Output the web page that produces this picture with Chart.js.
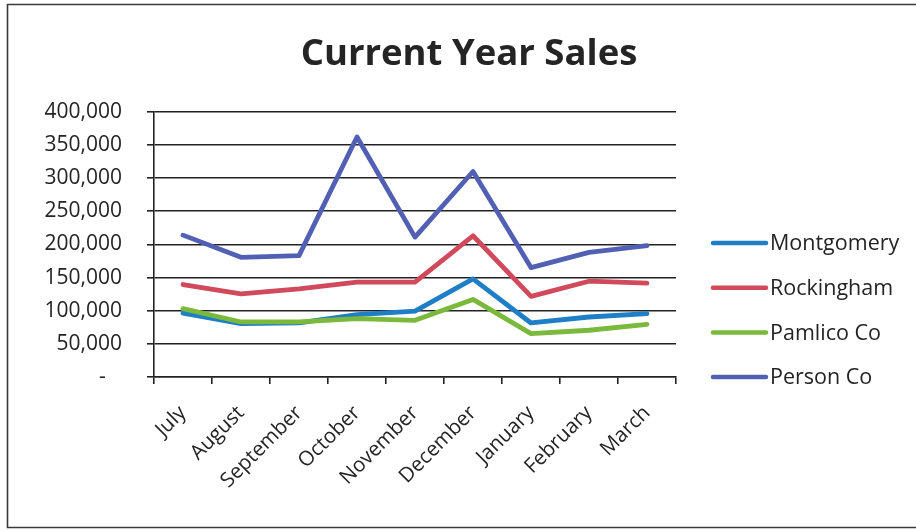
<!DOCTYPE html>
<html>
<head>
<meta charset="utf-8">
<title>Current Year Sales</title>
<script src="https://cdn.jsdelivr.net/npm/chart.js@4.4.1/dist/chart.umd.min.js"></script>
<style>
  html, body { margin: 0; padding: 0; background: #ffffff; }
  #wrap { position: relative; width: 916px; height: 531px; }
</style>
</head>
<body>
<div id="wrap"><canvas id="sales" width="916" height="531"></canvas></div>
<script>
// Monthly sales per county, July through March
const months = ['July', 'August', 'September', 'October', 'November', 'December', 'January', 'February', 'March'];
const montgomery = [96500, 80500, 81500, 94000, 99500, 148000, 81500, 90500, 95500];
const rockingham = [139500, 125500, 133000, 143000, 143000, 213000, 121500, 144500, 141500];
const pamlico = [103000, 83000, 83000, 88000, 85500, 117000, 65500, 70500, 79500];
const personCo = [214000, 180500, 183000, 362000, 211000, 310000, 165000, 188000, 198000];
const seriesNames = ['Montgomery', 'Rockingham', 'Pamlico Co', 'Person Co'];
const yTicks = [0, 50000, 100000, 150000, 200000, 250000, 300000, 350000, 400000];

const FONT = "'Open Sans', 'Liberation Sans', sans-serif";
const INK = '#242424';
const GRID = '#222222';

// White page with the thin frame around the chart
const framePlugin = {
  id: 'frame',
  beforeDraw(chart) {
    const ctx = chart.ctx;
    ctx.save();
    ctx.fillStyle = '#ffffff';
    ctx.fillRect(0, 0, chart.width, chart.height);
    ctx.strokeStyle = '#3a3a3a';
    ctx.lineWidth = 1.6;
    ctx.beginPath();
    ctx.moveTo(chart.width + 2, 4.5);
    ctx.lineTo(7.5, 4.5);
    ctx.lineTo(7.5, 527.5);
    ctx.lineTo(chart.width + 2, 527.5);
    ctx.stroke();
    ctx.restore();
  }
};

// Legend to the right of the plot: line swatch followed by the series name
const sideLegend = {
  id: 'sideLegend',
  afterDraw(chart, args, opts) {
    const ctx = chart.ctx;
    ctx.save();
    ctx.font = opts.font;
    ctx.textBaseline = 'middle';
    ctx.textAlign = 'left';
    chart.data.datasets.forEach((ds, i) => {
      const y = opts.top + i * opts.step;
      ctx.strokeStyle = ds.borderColor;
      ctx.lineWidth = 4.5;
      ctx.lineCap = 'round';
      ctx.beginPath();
      ctx.moveTo(opts.x, y);
      ctx.lineTo(opts.x + opts.swatch, y);
      ctx.stroke();
      ctx.fillStyle = INK;
      ctx.fillText(ds.label, opts.x + opts.swatch + 4, y + 1);
    });
    ctx.restore();
  }
};

function series(label, data, color, order) {
  return {
    label, data, order,
    borderColor: color,
    backgroundColor: color,
    borderWidth: 4.8,
    borderCapStyle: 'round',
    borderJoinStyle: 'round',
    pointRadius: 0,
    pointHoverRadius: 0,
    tension: 0,
    fill: false
  };
}

new Chart(document.getElementById('sales'), {
  type: 'line',
  data: {
    labels: months,
    datasets: [
      series(seriesNames[0], montgomery, '#1f7fc6', 4),
      series(seriesNames[1], rockingham, '#d04a5c', 3),
      series(seriesNames[2], pamlico, '#7ab93c', 2),
      series(seriesNames[3], personCo, '#5160b2', 1)
    ]
  },
  plugins: [framePlugin, sideLegend],
  options: {
    responsive: false,
    animation: false,
    events: [],
    layout: { padding: { top: 0, left: 22, right: 0, bottom: 0 } },
    plugins: {
      legend: { display: false },
      tooltip: { enabled: false },
      title: {
        display: true,
        text: 'Current Year Sales',
        color: INK,
        font: { family: FONT, size: 36.5, weight: 'bold', lineHeight: 1.2 },
        padding: { top: 33, bottom: 35 }
      },
      sideLegend: {
        x: 713, top: 243, step: 44.7, swatch: 53,
        font: "21.5px " + FONT
      }
    },
    scales: {
      x: {
        type: 'category',
        offset: true,
        grid: {
          offset: true,
          drawOnChartArea: false,
          drawTicks: true,
          tickLength: 7,
          color: GRID,
          lineWidth: 1.6
        },
        border: { display: true, color: GRID, width: 1.6 },
        ticks: {
          autoSkip: false,
          minRotation: 45,
          maxRotation: 45,
          padding: 17,
          color: INK,
          font: { family: FONT, size: 20.5 }
        },
        afterFit(scale) { scale.height = 154; }
      },
      y: {
        min: 0,
        max: 400000,
        afterBuildTicks(scale) { scale.ticks = yTicks.map(v => ({ value: v })); },
        grid: {
          drawOnChartArea: true,
          drawTicks: true,
          tickLength: 7,
          color: GRID,
          lineWidth: 1.6
        },
        border: { display: true, color: GRID, width: 1.6 },
        ticks: {
          padding: 25,
          color: INK,
          font: { family: FONT, size: 21 },
          callback(value) {
            return value === 0 ? '-   ' : value.toLocaleString('en-US');
          }
        },
        afterFit(scale) { scale.width = 132; }
      },
      // empty strip on the right that holds the legend
      legendSpace: {
        type: 'linear',
        position: 'right',
        display: true,
        grid: { display: false, drawTicks: false },
        border: { display: false },
        ticks: { display: false },
        afterFit(scale) { scale.width = 240; }
      }
    }
  }
});
</script>
</body>
</html>
